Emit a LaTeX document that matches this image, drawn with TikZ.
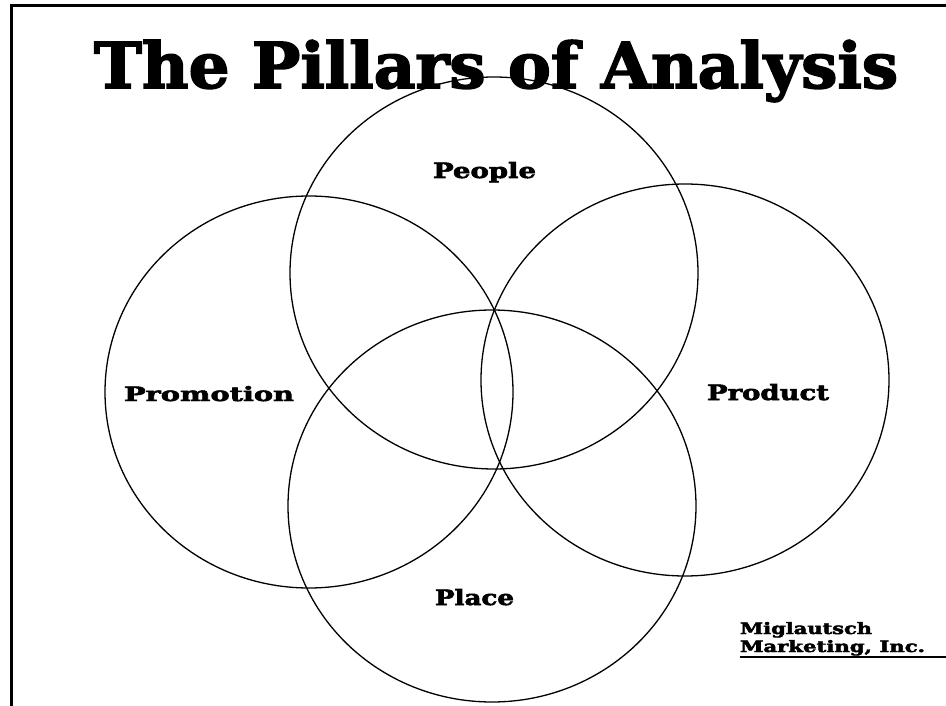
\documentclass[tikz,border=0pt]{standalone}
\usepackage{fontspec}
\setmainfont{DejaVu Serif}
\newfontfamily\heavyfont{DejaVu Serif Bold}[FakeBold=2.5]
\usetikzlibrary{shapes.geometric}
\newcommand{\fitlbl}[3]{\resizebox{#1}{#2}{\heavyfont #3}}
\begin{document}
\begin{tikzpicture}[x=1pt,y=-1pt,
  pillar/.style={draw=black, line width=1.3pt, ellipse, minimum width=408pt, minimum height=392pt, inner sep=0pt},
  lbl/.style={anchor=base west, inner sep=0pt, outer sep=0pt},
  frame/.style={draw=black, line width=3pt}]
\useasboundingbox (0,0) rectangle (946,706);
\fill[white] (0,0) rectangle (946,706);
% frame
\coordinate (ftl) at (11,5.5);
\coordinate (ftr) at (946,5.5);
\coordinate (fbl) at (11,706);
\draw[frame] (fbl) -- (ftl) -- (ftr);
% title
\node[lbl] (title) at (94,88) {\fitlbl{804pt}{48pt}{The Pillars of Analysis}};
% circles
\node[pillar] (people) at (494,273) {};
\node[pillar] (promotion) at (309,392) {};
\node[pillar] (product) at (685,380) {};
\node[pillar] (place) at (492,506) {};
% labels
\node[lbl] (lpeople) at (433,178) {\fitlbl{103pt}{16pt}{People}};
\node[lbl] (lpromotion) at (124,401) {\fitlbl{170pt}{15pt}{Promotion}};
\node[lbl] (lproduct) at (707,400) {\fitlbl{122pt}{16pt}{Product}};
\node[lbl] (lplace) at (435,605) {\fitlbl{79pt}{16pt}{Place}};
% company
\node[lbl] (co1) at (740,634) {\fitlbl{132pt}{12pt}{Miglautsch}};
\node[lbl] (co2) at (740,652) {\fitlbl{185pt}{12pt}{Marketing, Inc.}};
\coordinate (ul1) at (740,657);
\coordinate (ul2) at (946,657);
\draw[line width=1.8pt] (ul1) -- (ul2);
\end{tikzpicture}
\end{document}
